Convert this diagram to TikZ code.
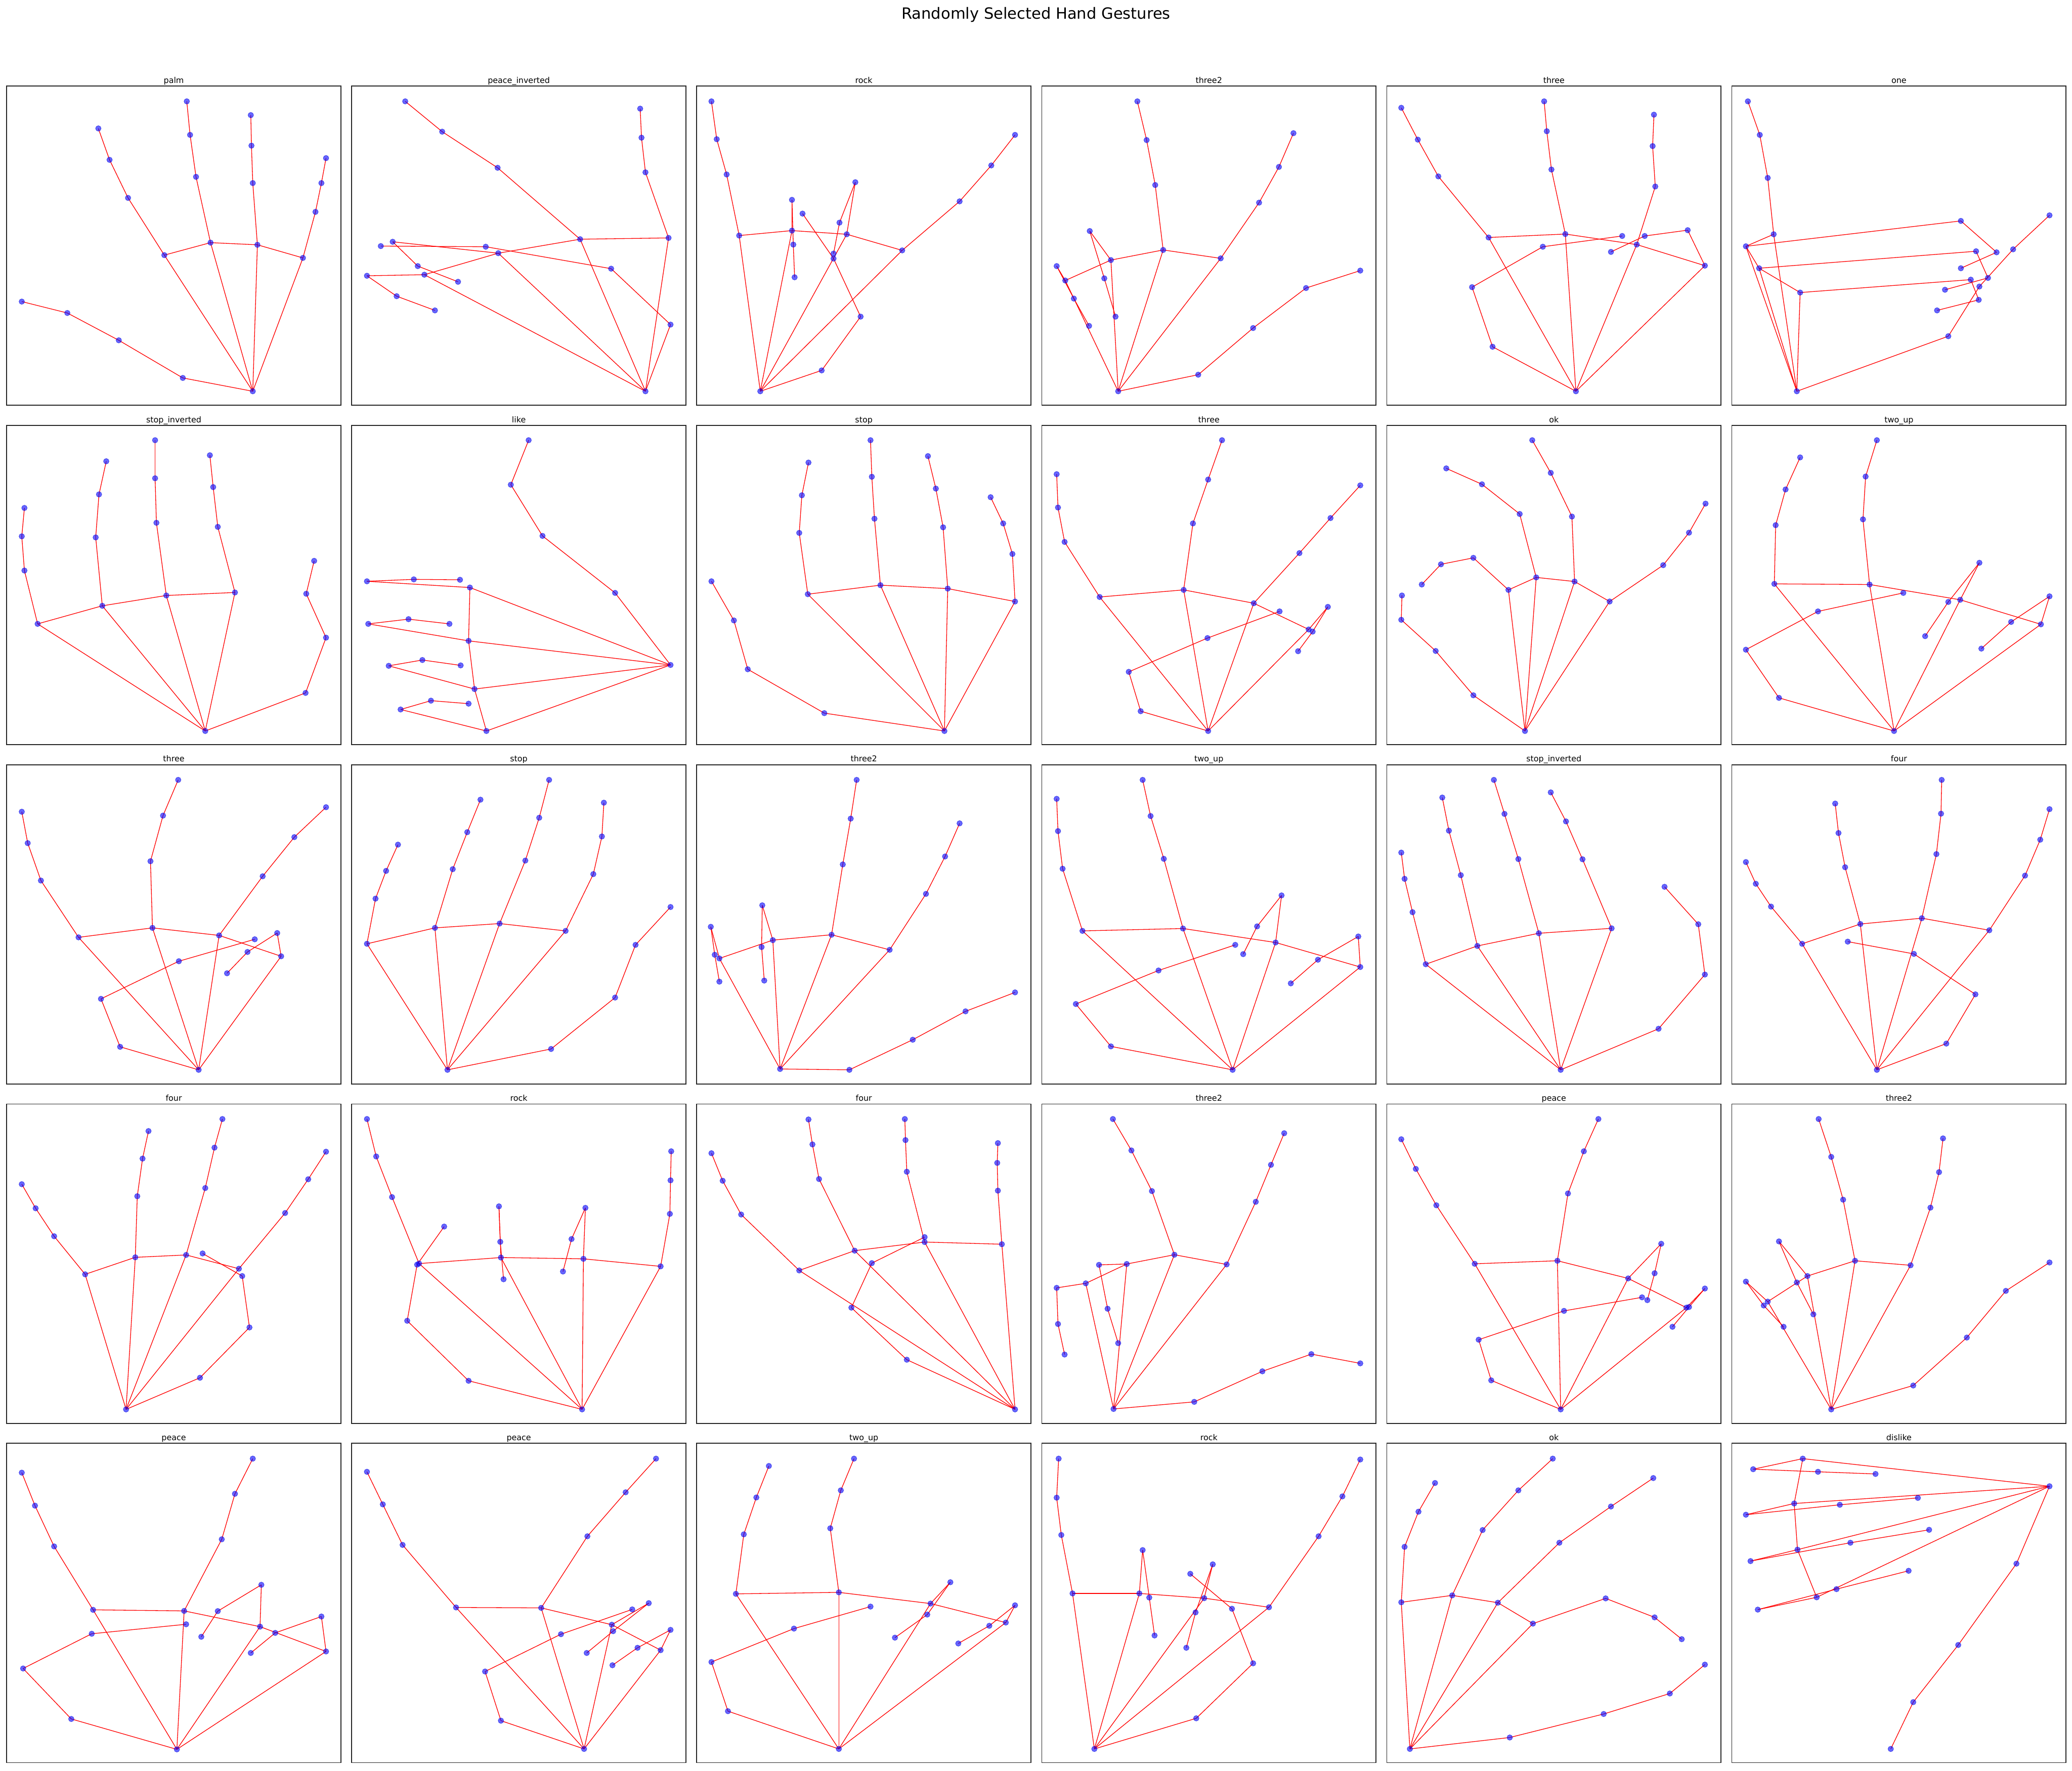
\documentclass[tikz,border=0pt]{standalone}
\usepackage{fontspec}
\setmainfont{DejaVu Sans}

\tikzset{
  bone/.style={red, line width=0.5pt},
  joint/.style={circle, inner sep=0pt, minimum size=4.2pt, fill=blue, fill opacity=0.6, draw=blue!85!black, draw opacity=0.6, line width=0.3pt},
  panelbox/.style={draw=black!85, line width=0.7pt},
  paneltitle/.style={anchor=base, font=\fontsize{6.1}{7.3}\selectfont},
  maintitle/.style={anchor=base, font=\fontsize{11.7}{14}\selectfont},
}

\newcommand{\hand}[2]{%
  \foreach \hx/\hy [count=\hi from 0] in {#2} {\coordinate (#1-\hi) at (\hx,\hy);}
  \foreach \ha/\hb in {0/1,1/2,2/3,3/4,0/5,5/6,6/7,7/8,0/9,9/10,10/11,11/12,0/13,13/14,14/15,15/16,0/17,17/18,18/19,19/20,5/9,9/13,13/17}
    {\draw[bone] (#1-\ha) -- (#1-\hb);}
  \foreach \hi in {0,...,20} {\node[joint] (#1-j\hi) at (#1-\hi) {};}
}

\begin{document}
\begin{tikzpicture}[x=1pt, y=-1pt]
\useasboundingbox (0,0) rectangle (1568,1340);

\node[maintitle] (suptitle) at (784,14.2) {Randomly Selected Hand Gestures};

\foreach \ttl [count=\k from 0] in {palm,peace\_inverted,rock,three2,three,one,stop\_inverted,like,stop,three,ok,two\_up,three,stop,three2,two\_up,stop\_inverted,four,four,rock,four,three2,peace,three2,peace,peace,two\_up,rock,ok,dislike}{
  \pgfmathtruncatemacro{\prow}{floor(\k/6)}
  \pgfmathtruncatemacro{\pcol}{mod(\k,6)}
  \pgfmathsetmacro{\px}{5.07+261.1*\pcol}
  \pgfmathsetmacro{\py}{65.1+256.8*\prow}
  \draw[panelbox] (\px,\py) rectangle ++(252.9,241.6);
  \node[paneltitle] (title-\k) at (\px+126.45,\py-2.2) {\ttl};
}

\begin{scope}[shift={(0,52.44)}, x=0.49943pt, y=-0.16276pt]
\hand{h1}{383/1497, 277/1435,180/1260,102/1133,33/1080, 249/864,194/598,166/421,149/275, 319/806,297/500,288/305,283/149, 390/816,383/529,381/355,380/213, 459/877,478/663,487/529,494/413}
\hand{h2}{978/1497, 1016/1187,926/927,736/825,577/822, 643/955,556/960,601/1055,659/1121, 755/855,595/802,633/915,694/988, 879/790,754/458,670/290,614/149, 1013/784,978/479,972/318,970/183}
\hand{h3}{1152/1497, 1245/1400,1304/1150,1263/880,1216/671, 1120/773,1101/489,1086/325,1078/149, 1200/750,1200/607,1202/815,1204/967, 1283/767,1296/525,1272/713,1263/857, 1367/842,1454/614,1502/447,1538/305}
\end{scope}

\begin{scope}[shift={(783.11,52.44)}, x=0.50055pt, y=-0.16276pt]
\hand{h4}{126/1497, 247/1420,330/1203,410/1017,492/936, 46/982,33/915,59/1066,82/1193, 115/887,83/752,105/972,122/1150, 194/840,182/538,169/329,155/149, 281/879,339/620,369/454,391/297}
\hand{h5}{818/1497, 692/1290,661/1013,768/825,888/775, 686/782,610/498,579/327,554/179, 802/766,781/466,774/288,770/149, 910/815,938/545,934/357,936/211, 1013/913,987/748,922/775,871/849}
\hand{h6}{1152/1497, 1381/1241,1428/1010,1479/837,1534/679, 1117/767,1108/505,1096/305,1078/149, 1075/823,1400/705,1454/851,1400/925, 1095/925,1423/846,1441/970,1376/1025, 1157/1038,1415/978,1427/1072,1364/1121}
\end{scope}

\begin{scope}[shift={(0,311.15)}, x=0.49943pt, y=-0.16276pt]
\hand{h7}{311/1487, 463/1310,494/1053,464/849,476/696, 57/989,37/741,33/582,37/450, 155/905,145/587,150/387,161/233, 252/857,237/519,235/312,235/135, 356/843,330/538,323/353,318/205}
\hand{h8}{1016/1180, 932/845,822/580,774/342,801/135, 712/820,556/791,627/782,697/784, 710/1068,558/989,619/967,681/989, 719/1292,589/1184,640/1157,698/1182, 737/1487,607/1387,653/1346,710/1360}
\hand{h9}{1431/1487, 1249/1404,1133/1200,1112/973,1078/791, 1224/851,1211/566,1215/391,1225/239, 1334/809,1325/500,1321/305,1319/135, 1436/825,1429/540,1418/360,1406/209, 1538/885,1534/664,1520/522,1501/400}
\end{scope}

\begin{scope}[shift={(783.11,311.15)}, x=0.50055pt, y=-0.16276pt]
\hand{h10}{262/1487, 160/1395,142/1212,261/1055,370/931, 98/864,45/608,35/448,33/293, 225/831,239/522,262/318,283/135, 331/893,400/660,447/497,492/345, 414/1015,443/910,420/1025,398/1116}
\hand{h11}{741/1487, 663/1321,606/1115,554/970,555/857, 716/831,663/682,614/712,585/806, 758/773,733/478,676/340,622/266, 816/792,812/490,780/287,752/135, 869/885,950/716,989/565,1014/430}
\hand{h12}{1299/1487, 1125/1333,1075/1109,1184/931,1313/845, 1118/803,1120/530,1135/364,1157/215, 1262/806,1252/503,1256/304,1273/135, 1399/877,1428/705,1381/887,1346/1046, 1521/991,1534/861,1476/980,1431/1104}
\end{scope}

\begin{scope}[shift={(0,569.85)}, x=0.49943pt, y=-0.16276pt]
\hand{h13}{301/1473, 182/1366,153/1143,271/968,386/866, 119/857,62/593,42/419,33/273, 231/813,228/503,247/291,270/125, 332/848,398/573,446/391,494/252, 426/945,420/837,375/925,344/1024}
\hand{h14}{678/1473, 835/1376,932/1137,963/892,1016/716, 556/887,569/677,585/548,603/426, 659/813,686/540,708/368,728/217, 757/793,796/500,817/301,832/125, 857/827,899/563,912/388,915/231}
\hand{h15}{1182/1469, 1287/1473,1383/1333,1463/1201,1538/1113, 1090/955,1077/808,1083/938,1090/1063, 1171/870,1155/708,1154/902,1158/1058, 1260/845,1277/518,1289/305,1298/125, 1348/915,1403/655,1432/481,1454/327}
\end{scope}

\begin{scope}[shift={(783.11,569.85)}, x=0.50055pt, y=-0.16276pt]
\hand{h16}{299/1473, 115/1364,62/1167,187/1011,303/892, 72/827,42/538,35/363,33/213, 224/816,195/492,175/293,163/125, 364/881,373/662,336/806,315/935, 492/995,489/853,428/961,387/1071}
\hand{h17}{795/1473, 943/1282,1013/1030,1003/796,952/622, 591/982,571/740,559/585,554/463, 669/897,644/568,626/361,616/207, 762/838,731/493,710/283,694/125, 872/815,828/494,803/318,780/183}
\hand{h18}{1273/1473, 1378/1351,1422/1122,1329/934,1229/877, 1160/887,1113/714,1090/608,1075/507, 1248/795,1225/531,1215/372,1210/235, 1341/768,1363/470,1370/282,1371/125, 1443/824,1497/570,1520/403,1534/261}
\end{scope}

\begin{scope}[shift={(0,826.81)}, x=0.49943pt, y=-0.16276pt]
\hand{h19}{191/1473, 303/1326,378/1092,367/853,307/748, 129/845,82/668,54/538,33/426, 205/766,208/482,216/307,225/179, 282/755,311/444,325/256,337/123, 362/819,432/560,467/403,494/275}
\hand{h20}{882/1473, 710/1340,617/1061,632/800,673/623, 635/795,594/486,570/297,556/123, 759/767,756/529,758/694,763/868, 884/773,887/536,866/681,853/832, 1001/808,1015/564,1016/408,1017/273}
\hand{h21}{1538/1473, 1374/1242,1290/1000,1321/793,1401/672, 1211/827,1123/567,1095/410,1078/282, 1295/735,1241/402,1231/241,1225/125, 1401/695,1374/368,1372/221,1371/123, 1518/705,1512/456,1511/327,1512/235}
\end{scope}

\begin{scope}[shift={(783.11,826.81)}, x=0.50055pt, y=-0.16276pt]
\hand{h22}{119/1471, 241/1438,344/1296,418/1216,492/1259, 77/887,33/908,35/1076,45/1218, 139/797,97/801,110/1005,126/1165, 211/754,177/458,146/269,118/123, 290/799,334/508,357/336,377/189}
\hand{h23}{795/1473, 690/1338,671/1149,800/1015,918/952, 665/796,607/524,576/355,554/217, 790/782,806/469,830/273,852/123, 897/864,947/703,937/840,926/965, 985/1000,1013/911,989/997,964/1089}
\hand{h24}{1204/1473, 1328/1362,1409/1139,1468/922,1534/790, 1108/972,1075/879,1102/990,1132/1089, 1168/853,1125/692,1152/883,1177/1031, 1240/782,1222/498,1204/299,1185/123, 1324/803,1354/535,1367/370,1373/213}
\end{scope}

\begin{scope}[shift={(0,1083.76)}, x=0.49943pt, y=-0.16321pt]
\hand{h25}{268/1471, 108/1330,35/1096,139/935,282/891, 141/824,82/530,53/341,33/188, 279/829,336/497,356/286,383/123, 394/902,396/708,330/830,305/949, 494/1017,487/855,417/931,380/1024}
\hand{h26}{885/1469, 759/1338,735/1110,850/937,958/822, 691/813,610/523,580/335,556/184, 820/815,890/483,948/279,994/123, 927/893,983/793,929/923,889/1024, 1001/1011,1016/917,966/1000,928/1081}
\hand{h27}{1271/1469, 1103/1294,1078/1066,1203/911,1319/809, 1115/750,1127/474,1146/303,1165/157, 1271/743,1258/446,1274/270,1294/123, 1410/795,1440/696,1405/846,1356/953, 1524/883,1538/803,1499/898,1452/980}
\end{scope}

\begin{scope}[shift={(783.11,1083.76)}, x=0.50055pt, y=-0.16321pt]
\hand{h28}{90/1469, 244/1327,330/1072,298/819,235/657, 57/748,40/477,33/304,36/123, 158/748,163/547,173/767,181/943, 256/770,269/613,243/836,229/1000, 354/812,429/483,465/298,492/127}
\hand{h29}{567/1469, 718/1416,860/1307,960/1212,1013/1078, 554/789,559/532,580/369,605/236, 631/757,677/454,731/270,783/123, 700/791,793/513,871/345,935/213, 753/888,863/771,937/859,978/960}
\hand{h30}{1534/251, 1484/610,1396/987,1328/1252,1294/1469, 1161/123,1086/172,1184/184,1271/194, 1148/331,1075/383,1217/337,1335/305, 1153/545,1082/598,1233/513,1352/453, 1182/766,1093/823,1212/728,1321/643}
\end{scope}
\end{tikzpicture}
\end{document}
